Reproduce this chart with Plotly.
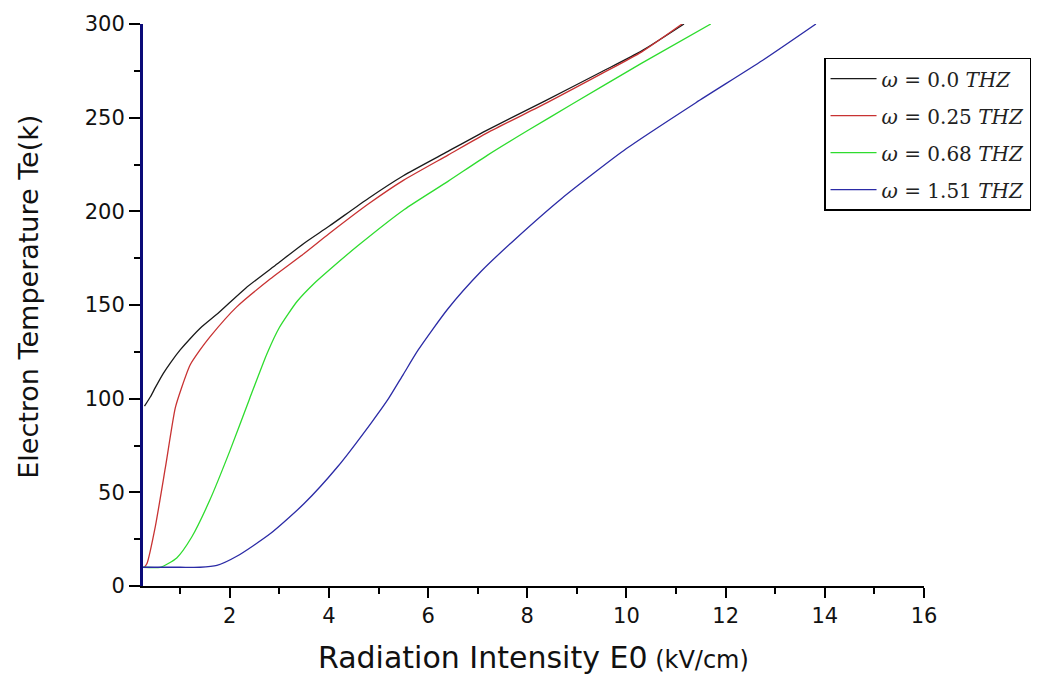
import plotly.graph_objects as go

# ---- data ----
x_w000 = [0.28, 0.4, 0.5, 0.66, 0.8, 1.0, 1.2, 1.44, 1.78, 2.32, 2.96, 3.5, 4.0, 4.8, 5.5, 6.4, 7.2, 8.36, 9.5, 10.3, 11.16]
y_w000 = [96, 101, 106, 113.5, 119, 126, 132, 138.5, 146, 159, 172, 183, 192, 207, 219, 232, 243.5, 259, 274.5, 285.5, 300]

x_w025 = [0.28, 0.33, 0.5, 0.7, 0.9, 1.03, 1.2, 1.4, 1.6, 2.14, 2.82, 3.5, 4.0, 4.8, 5.5, 6.4, 7.2, 8.4, 9.5, 10.3, 11.12]
y_w025 = [10, 12, 32, 63, 95, 106, 118, 126, 133, 149, 164, 177.5, 188, 204, 216.5, 230, 242, 258, 273.5, 285, 300]

x_w068 = [0.25, 0.6, 0.93, 1.23, 1.6, 2.0, 2.4, 2.75, 3.0, 3.36, 3.7, 4.04, 4.6, 5.52, 6.4, 7.2, 8.0, 8.89, 10.3, 11.7]
y_w068 = [10, 10, 15, 26, 46, 72, 100, 124, 138, 152, 161.5, 169.5, 182, 201, 216, 230, 243, 257, 279, 300]

x_w151 = [0.25, 1.0, 1.4, 1.74, 2.15, 2.82, 3.5, 4.17, 4.85, 5.2, 5.5, 5.8, 6.4, 7.07, 7.75, 8.7, 10.0, 11.4, 12.74, 13.82]
y_w151 = [10, 10, 10, 11, 16, 28, 44, 63.5, 87, 100, 113, 126, 148, 168, 185, 207, 233.5, 258, 280.5, 300]

series_names = ["<i>ω</i> = 0.0 <i>THZ</i>", "<i>ω</i> = 0.25 <i>THZ</i>",
                "<i>ω</i> = 0.68 <i>THZ</i>", "<i>ω</i> = 1.51 <i>THZ</i>"]
series_x = [x_w000, x_w025, x_w068, x_w151]
series_y = [y_w000, y_w025, y_w068, y_w151]
colors = ["#1a1a1a", "#c83232", "#2edc2e", "#2b2ba6"]

x_tickvals = [2, 4, 6, 8, 10, 12, 14, 16]
y_tickvals = [0, 50, 100, 150, 200, 250, 300]

fig = go.Figure()
for i, (xs, ys, nm, c) in enumerate(zip(series_x, series_y, series_names, colors)):
    fig.add_trace(go.Scatter(x=xs, y=ys, mode="lines", name=nm, legendgroup=f"g{i}",
                             line=dict(color=c, width=1.3, shape="spline", smoothing=0.6)))

font_main = "DejaVu Sans"
fig.update_layout(
    width=1038, height=677,
    margin=dict(l=143, r=114, t=24, b=91, autoexpand=False),
    paper_bgcolor="white", plot_bgcolor="white",
    showlegend=True,
    legend=dict(x=0.872, y=0.94, xanchor="left", yanchor="top",
                bgcolor="white", bordercolor="black", borderwidth=1.5,
                font=dict(family="DejaVu Serif", size=20, color="#222"),
                itemwidth=46, tracegroupgap=8),
    xaxis=dict(range=[0.25, 16], showgrid=False, zeroline=False,
               showline=True, linecolor="black", linewidth=2,
               ticks="outside", ticklen=10, tickwidth=2, tickcolor="black",
               tickvals=x_tickvals, ticktext=[str(v) for v in x_tickvals],
               tickfont=dict(family=font_main, size=21, color="#111"),
               minor=dict(ticks="outside", ticklen=6, tickwidth=2, tickcolor="black",
                          tickvals=[1, 3, 5, 7, 9, 11, 13, 15])),
    yaxis=dict(range=[0, 300], showgrid=False, zeroline=False,
               showline=True, linecolor="#0a0a78", linewidth=3,
               ticks="outside", ticklen=11, tickwidth=2, tickcolor="black",
               tickvals=y_tickvals, ticktext=[str(v) for v in y_tickvals],
               tickfont=dict(family=font_main, size=21, color="#111"),
               minor=dict(ticks="outside", ticklen=6, tickwidth=2, tickcolor="black",
                          tickvals=[25, 75, 125, 175, 225, 275])),
    annotations=[
        dict(text="Radiation Intensity E0<span style='font-size:24px'> (kV/cm)</span>",
             xref="paper", yref="paper", x=0.5, y=-0.128, xanchor="center", yanchor="middle",
             showarrow=False, font=dict(family=font_main, size=30, color="#111")),
        dict(text="Electron Temperature Te(k)",
             xref="paper", yref="paper", x=-0.147, y=0.515, xanchor="center", yanchor="middle",
             textangle=-90, showarrow=False, font=dict(family=font_main, size=27, color="#111")),
    ],
)

fig.write_html("out.html")
